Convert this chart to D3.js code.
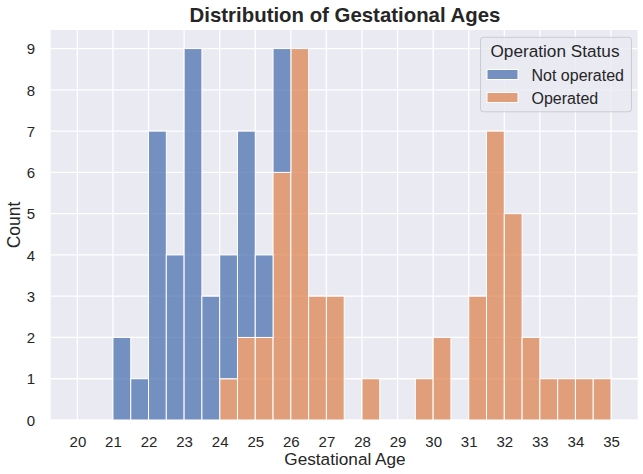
<!DOCTYPE html>
<html>
<head>
<meta charset="utf-8">
<script src="https://cdn.jsdelivr.net/npm/d3@7"></script>
<style>
  html, body { margin: 0; padding: 0; background: #ffffff; }
  svg { display: block; }
  text { font-family: "Liberation Sans", Arial, sans-serif; fill: #262626; }
</style>
</head>
<body>
<svg id="chart" width="643" height="474"></svg>
<script>
// ---- data ----
const binStarts = [20, 20.5, 21, 21.5, 22, 22.5, 23, 23.5, 24, 24.5, 25, 25.5, 26, 26.5, 27, 27.5,
                   28, 28.5, 29, 29.5, 30, 30.5, 31, 31.5, 32, 32.5, 33, 33.5, 34, 34.5];
const binWidth = 0.5;
const notOperated = [0, 0, 2, 1, 7, 4, 9, 3, 3, 5, 2, 3, 0, 0, 0, 0,
                     0, 0, 0, 0, 0, 0, 0, 0, 0, 0, 0, 0, 0, 0];
const operated    = [0, 0, 0, 0, 0, 0, 0, 0, 1, 2, 2, 6, 9, 3, 3, 0,
                     1, 0, 0, 1, 2, 0, 3, 7, 5, 2, 1, 1, 1, 1];
const xTicks = [20, 21, 22, 23, 24, 25, 26, 27, 28, 29, 30, 31, 32, 33, 34, 35];
const yTicks = [0, 1, 2, 3, 4, 5, 6, 7, 8, 9];
const seriesNames = ["Not operated", "Operated"];
const seriesColors = ["#4c72b0", "#dd8452"];

// ---- layout ----
const svg = d3.select("#chart");
const plot = { left: 50.7, right: 637.7, top: 30, bottom: 420 };

const x = d3.scaleLinear().domain([19.25, 35.75]).range([plot.left, plot.right]);
const y = d3.scaleLinear().domain([0, 9.45]).range([plot.bottom, plot.top]);

// background
svg.append("rect")
  .attr("x", plot.left).attr("y", plot.top)
  .attr("width", plot.right - plot.left).attr("height", plot.bottom - plot.top)
  .attr("fill", "#eaeaf2");

// grid
const grid = svg.append("g");
grid.selectAll("line.vx").data(xTicks).join("line")
  .attr("x1", d => x(d)).attr("x2", d => x(d))
  .attr("y1", plot.top).attr("y2", plot.bottom)
  .attr("stroke", "#ffffff").attr("stroke-width", 1.3);
grid.selectAll("line.hy").data(yTicks).join("line")
  .attr("x1", plot.left).attr("x2", plot.right)
  .attr("y1", d => y(d)).attr("y2", d => y(d))
  .attr("stroke", "#ffffff").attr("stroke-width", 1.3);

// stacked bars: Operated at bottom, Not operated on top
const bins = binStarts.map((s, i) => ({ s, op: operated[i], no: notOperated[i] }));
const bars = svg.append("g");
bars.selectAll("rect.op").data(bins.filter(d => d.op > 0)).join("rect")
  .attr("x", d => x(d.s)).attr("width", d => x(d.s + binWidth) - x(d.s))
  .attr("y", d => y(d.op)).attr("height", d => y(0) - y(d.op))
  .attr("fill", seriesColors[1]).attr("fill-opacity", 0.75)
  .attr("stroke", "#ffffff").attr("stroke-width", 1);
bars.selectAll("rect.no").data(bins.filter(d => d.no > 0)).join("rect")
  .attr("x", d => x(d.s)).attr("width", d => x(d.s + binWidth) - x(d.s))
  .attr("y", d => y(d.op + d.no)).attr("height", d => y(d.op) - y(d.op + d.no))
  .attr("fill", seriesColors[0]).attr("fill-opacity", 0.75)
  .attr("stroke", "#ffffff").attr("stroke-width", 1);

// axes
const xAxis = d3.axisBottom(x).tickValues(xTicks).tickSize(0).tickPadding(0).tickFormat(d3.format("d"));
const gx = svg.append("g").attr("transform", `translate(0,${plot.bottom})`).call(xAxis);
gx.select(".domain").remove();
gx.selectAll("text").attr("font-size", 15).attr("dy", 0).attr("y", 27)
  .attr("font-family", "Liberation Sans, Arial, sans-serif").attr("fill", "#262626");

const yAxis = d3.axisLeft(y).tickValues(yTicks).tickSize(0).tickPadding(0).tickFormat(d3.format("d"));
const gy = svg.append("g").attr("transform", `translate(${plot.left},0)`).call(yAxis);
gy.select(".domain").remove();
gy.selectAll("text").attr("font-size", 15).attr("x", -15.7).attr("dy", "0.35em")
  .attr("font-family", "Liberation Sans, Arial, sans-serif").attr("fill", "#262626");

// title & labels
svg.append("text").attr("x", 345).attr("y", 22).attr("text-anchor", "middle")
  .attr("font-size", 20.4).attr("font-weight", "bold").text("Distribution of Gestational Ages");
svg.append("text").attr("x", 345).attr("y", 465).attr("text-anchor", "middle")
  .attr("font-size", 17.2).text("Gestational Age");
svg.append("text").attr("transform", `translate(19.5,${(plot.top + plot.bottom) / 2}) rotate(-90)`)
  .attr("text-anchor", "middle").attr("font-size", 17.5).text("Count");

// legend
const lg = svg.append("g");
lg.append("rect").attr("x", 480.5).attr("y", 37.3).attr("width", 151).attr("height", 74.5)
  .attr("rx", 3).attr("fill", "#eaeaf2").attr("fill-opacity", 0.8)
  .attr("stroke", "#cccccc").attr("stroke-width", 1);
lg.append("text").attr("x", 555).attr("y", 57).attr("text-anchor", "middle")
  .attr("font-size", 17.2).text("Operation Status");
seriesNames.forEach((name, i) => {
  const yy = 69.5 + i * 23;
  lg.append("rect").attr("x", 487).attr("y", yy).attr("width", 31).attr("height", 10)
    .attr("fill", seriesColors[i]).attr("fill-opacity", 0.75)
    .attr("stroke", "#ffffff").attr("stroke-width", 1);
  lg.append("text").attr("x", 531.5).attr("y", yy + 11).attr("font-size", 16).text(name);
});
</script>
</body>
</html>
